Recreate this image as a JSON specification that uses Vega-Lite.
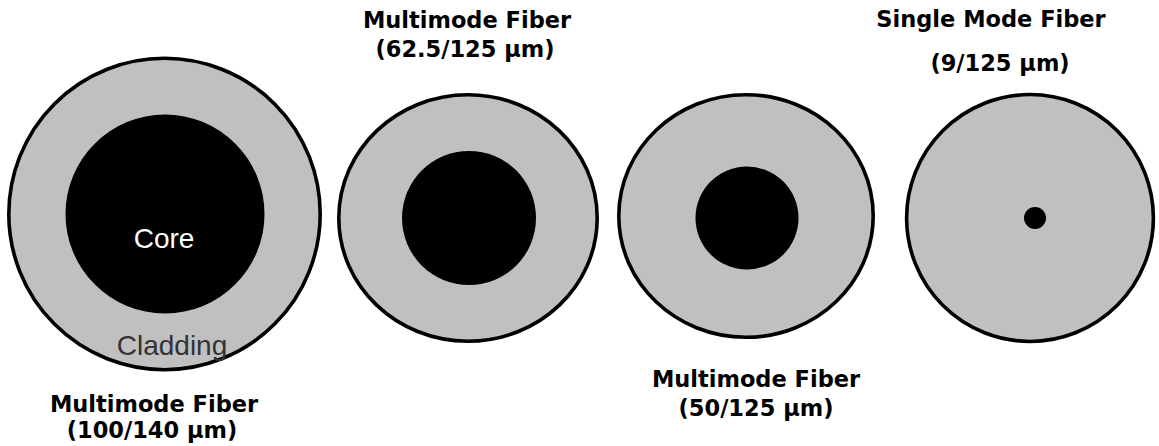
{
  "$schema": "https://vega.github.io/schema/vega-lite/v6.json",
  "width": 1159,
  "height": 446,
  "autosize": {"type": "none"},
  "padding": 0,
  "background": "white",
  "config": {"view": {"stroke": null}},
  "datasets": {
    "fibers": [
      {"fiber": "100/140", "cx": 164.5, "cy": 214, "r": 155.7},
      {"fiber": "62.5/125", "cx": 468, "cy": 218, "r": 129.2},
      {"fiber": "50/125", "cx": 746, "cy": 216, "r": 127.2},
      {"fiber": "9/125", "cx": 1030, "cy": 218, "r": 123.4}
    ],
    "cores": [
      {"fiber": "100/140", "cx": 165, "cy": 214, "r": 99.5},
      {"fiber": "62.5/125", "cx": 469, "cy": 218, "r": 67},
      {"fiber": "50/125", "cx": 747, "cy": 218, "r": 51.5},
      {"fiber": "9/125", "cx": 1035, "cy": 218, "r": 11}
    ],
    "labels": [
      {"role": "title", "text": "Multimode Fiber", "x": 154, "y": 411.5},
      {"role": "title", "text": "(100/140 µm)", "x": 152, "y": 438},
      {"role": "title", "text": "Multimode Fiber", "x": 467, "y": 27.5},
      {"role": "title", "text": "(62.5/125 µm)", "x": 465, "y": 57},
      {"role": "title", "text": "Single Mode Fiber", "x": 991, "y": 26.5},
      {"role": "title", "text": "(9/125 µm)", "x": 1000, "y": 71},
      {"role": "title", "text": "Multimode Fiber", "x": 756, "y": 386.5},
      {"role": "title", "text": "(50/125 µm)", "x": 756, "y": 415.5},
      {"role": "core", "text": "Core", "x": 164, "y": 248},
      {"role": "cladding", "text": "Cladding", "x": 172, "y": 355}
    ]
  },
  "layer": [
    {
      "data": {"name": "fibers"},
      "transform": [{"filter": "datum.fiber === '100/140' || datum.fiber === '9/125'"}],
      "mark": {"type": "point", "shape": "circle", "filled": true, "fill": "#c0c0c0", "stroke": "#000000", "strokeWidth": 3.6, "opacity": 1, "fillOpacity": 1, "strokeOpacity": 1},
      "encoding": {
        "x": {"field": "cx", "type": "quantitative", "scale": {"domain": [0, 1159], "nice": false, "zero": false}, "axis": null},
        "y": {"field": "cy", "type": "quantitative", "scale": {"domain": [0, 446], "nice": false, "zero": false, "reverse": true}, "axis": null},
        "size": {"field": "r", "type": "quantitative", "scale": {"type": "pow", "exponent": 2, "domain": [0, 100], "range": [0, 40000], "zero": true, "nice": false}, "legend": null}
      }
    },
    {
      "data": {"name": "fibers"},
      "transform": [{"filter": "datum.fiber === '62.5/125' || datum.fiber === '50/125'"}],
      "mark": {"type": "point", "shape": "M -1 0 C -1 -0.5267 -0.5523 -0.9536 0 -0.9536 C 0.5523 -0.9536 1 -0.5267 1 0 C 1 0.5267 0.5523 0.9536 0 0.9536 C -0.5523 0.9536 -1 0.5267 -1 0 Z", "filled": true, "fill": "#c0c0c0", "stroke": "#000000", "strokeWidth": 3.6, "opacity": 1, "fillOpacity": 1, "strokeOpacity": 1},
      "encoding": {
        "x": {"field": "cx", "type": "quantitative", "axis": null},
        "y": {"field": "cy", "type": "quantitative", "axis": null},
        "size": {"field": "r", "type": "quantitative", "legend": null}
      }
    },
    {
      "data": {"name": "cores"},
      "mark": {"type": "point", "shape": "circle", "filled": true, "fill": "#000000", "strokeWidth": 0, "opacity": 1},
      "encoding": {
        "x": {"field": "cx", "type": "quantitative", "axis": null},
        "y": {"field": "cy", "type": "quantitative", "axis": null},
        "size": {"field": "r", "type": "quantitative", "legend": null}
      }
    },
    {
      "data": {"name": "labels"},
      "transform": [{"filter": "datum.role === 'title'"}],
      "mark": {"type": "text", "font": "DejaVu Sans", "fontWeight": "bold", "fontSize": 22.5, "align": "center", "baseline": "alphabetic", "color": "#000000"},
      "encoding": {
        "x": {"field": "x", "type": "quantitative", "axis": null},
        "y": {"field": "y", "type": "quantitative", "axis": null},
        "text": {"field": "text"}
      }
    },
    {
      "data": {"name": "labels"},
      "transform": [{"filter": "datum.role === 'core'"}],
      "mark": {"type": "text", "font": "Liberation Sans", "fontSize": 28, "align": "center", "baseline": "alphabetic", "color": "#ffffff"},
      "encoding": {
        "x": {"field": "x", "type": "quantitative", "axis": null},
        "y": {"field": "y", "type": "quantitative", "axis": null},
        "text": {"field": "text"}
      }
    },
    {
      "data": {"name": "labels"},
      "transform": [{"filter": "datum.role === 'cladding'"}],
      "mark": {"type": "text", "font": "Liberation Sans", "fontSize": 28, "align": "center", "baseline": "alphabetic", "color": "#333333"},
      "encoding": {
        "x": {"field": "x", "type": "quantitative", "axis": null},
        "y": {"field": "y", "type": "quantitative", "axis": null},
        "text": {"field": "text"}
      }
    }
  ]
}
